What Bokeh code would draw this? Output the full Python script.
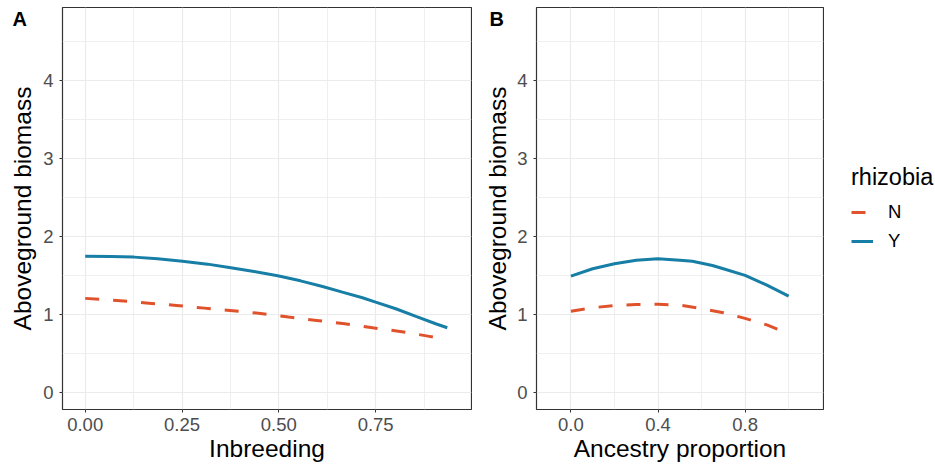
import math
from bokeh.plotting import figure
from bokeh.layouts import row
from bokeh.models import FixedTicker, PrintfTickFormatter, Label, Legend, LegendItem, Range1d
from bokeh.embed import file_html
from bokeh.resources import INLINE

# ---- data ----
series_names = ["N", "Y"]
colors = {"N": "#E0522B", "Y": "#177EA6"}
dashes = {"N": "14 14", "Y": "solid"}

inb_x_Y = [0.0, 0.066, 0.126, 0.187, 0.251, 0.316, 0.376, 0.436, 0.497, 0.556, 0.613, 0.664, 0.716, 0.750, 0.802, 0.854, 0.905, 0.935]
inb_y_Y = [1.751, 1.747, 1.739, 1.718, 1.687, 1.649, 1.602, 1.555, 1.500, 1.435, 1.363, 1.290, 1.218, 1.162, 1.077, 0.978, 0.885, 0.833]
inb_x_N = [0.0, 0.091, 0.164, 0.236, 0.308, 0.381, 0.453, 0.525, 0.598, 0.670, 0.742, 0.813, 0.885, 0.903]
inb_y_N = [1.21, 1.179, 1.149, 1.119, 1.085, 1.051, 1.017, 0.970, 0.927, 0.884, 0.833, 0.786, 0.726, 0.709]

anc_x_Y = [0.0, 0.1, 0.2, 0.3, 0.4, 0.5, 0.558, 0.65, 0.7, 0.8, 0.9, 1.0]
anc_y_Y = [1.495, 1.59, 1.654, 1.70, 1.718, 1.70, 1.685, 1.632, 1.590, 1.505, 1.38, 1.238]
anc_x_N = [0.0, 0.1, 0.2, 0.3, 0.4, 0.5, 0.6, 0.7, 0.8, 0.9, 0.953]
anc_y_N = [1.046, 1.09, 1.119, 1.132, 1.136, 1.123, 1.08, 1.025, 0.953, 0.87, 0.81]

y_ticks = [0, 1, 2, 3, 4]
y_minor = [0.5, 1.5, 2.5, 3.5, 4.5]
inb_ticks = [0.0, 0.25, 0.5, 0.75]
inb_minor = [0.125, 0.375, 0.625, 0.875]
anc_ticks = [0.0, 0.4, 0.8]
anc_minor = [0.2, 0.6, 1.0]

y_title = "Aboveground biomass"
legend_title = "rhizobia"

FONT = "Liberation Sans"
Y0, Y1 = -0.215, 4.94
FH = 402      # panel (frame) height in px
TOP, BOT = 7, 58


def blank_fig(width):
    """A figure whose frame spans its full width; used for the panel tag/y-title strip and the legend."""
    f = figure(width=width, frame_height=FH, output_backend="svg", toolbar_location=None,
               x_range=Range1d(0, width), y_range=Range1d(0, FH),
               x_axis_location=None, y_axis_location=None,
               min_border_left=0, min_border_right=0, min_border_top=TOP, min_border_bottom=BOT)
    f.outline_line_color = None
    f.grid.grid_line_color = None
    f.background_fill_color = "white"
    f.border_fill_color = "white"
    return f


def tag_strip(width, tag, tag_x, title_x):
    f = blank_fig(width)
    f.add_layout(Label(x=tag_x, y=FH, text=tag, text_font=FONT, text_font_size="20px",
                       text_font_style="bold", text_baseline="top", text_align="left",
                       text_color="black"))
    f.add_layout(Label(x=title_x, y=FH / 2, text=y_title, angle=math.pi / 2,
                       text_font=FONT, text_font_size="24.5px", text_baseline="alphabetic",
                       text_align="center", text_color="black"))
    return f


def make_fig(fw, left, xr, xticks, xminor, fmt, xlabel):
    p = figure(frame_width=fw, frame_height=FH, output_backend="svg", toolbar_location=None,
               x_range=Range1d(*xr), y_range=Range1d(Y0, Y1),
               min_border_left=left, min_border_right=1,
               min_border_top=TOP, min_border_bottom=BOT)
    p.outline_line_color = "#333333"
    p.outline_line_width = 1.2
    p.background_fill_color = "white"
    p.border_fill_color = "white"
    p.xaxis.ticker = FixedTicker(ticks=xticks, minor_ticks=xminor)
    p.yaxis.ticker = FixedTicker(ticks=y_ticks, minor_ticks=y_minor)
    p.xaxis.formatter = PrintfTickFormatter(format=fmt)
    for ax in (p.xaxis, p.yaxis):
        ax.axis_line_color = None
        ax.major_tick_line_color = "#333333"
        ax.major_tick_out = 3
        ax.major_tick_in = 0
        ax.minor_tick_line_color = None
        ax.major_label_text_font = FONT
        ax.major_label_text_font_size = "18.5px"
        ax.major_label_text_color = "#4D4D4D"
        ax.axis_label_text_font = FONT
        ax.axis_label_text_font_size = "24.5px"
        ax.axis_label_text_font_style = "normal"
        ax.axis_label_text_color = "black"
    p.xaxis.axis_label = xlabel
    p.xaxis.major_label_standoff = 4
    p.xaxis.axis_label_standoff = 1
    p.yaxis.major_label_standoff = 5
    for g in (p.xgrid, p.ygrid):
        g.grid_line_color = "#EBEBEB"
        g.grid_line_width = 1.2
        g.minor_grid_line_color = "#EBEBEB"
        g.minor_grid_line_width = 0.8
    return p


tagA = tag_strip(40, "A", 12, 22)
pA = make_fig(409, 20, (-0.0586, 0.9975), inb_ticks, inb_minor, "%.2f", "Inbreeding")
pA.line(inb_x_N, inb_y_N, line_color=colors["N"], line_width=3, line_dash=dashes["N"])
pA.line(inb_x_Y, inb_y_Y, line_color=colors["Y"], line_width=3, line_dash=dashes["Y"])

tagB = tag_strip(40, "B", 17, 25)
pB = make_fig(287, 24, (-0.158, 1.16), anc_ticks, anc_minor, "%.1f", "Ancestry proportion")
pB.line(anc_x_N, anc_y_N, line_color=colors["N"], line_width=3, line_dash=dashes["N"])
pB.line(anc_x_Y, anc_y_Y, line_color=colors["Y"], line_width=3, line_dash=dashes["Y"])

# ---- legend strip ----
pL = blank_fig(113)
items = []
for s in series_names:
    r = pL.line([float("nan")], [float("nan")], line_color=colors[s], line_width=3, line_dash=dashes[s])
    items.append(LegendItem(label=s, renderers=[r]))

legend = Legend(items=items, title=legend_title, location="left")
legend.title_text_font = FONT
legend.title_text_font_size = "23.5px"
legend.title_text_font_style = "normal"
legend.title_text_color = "black"
legend.title_standoff = 10
legend.label_text_font = FONT
legend.label_text_font_size = "18.5px"
legend.label_text_color = "black"
legend.glyph_width = 22
legend.glyph_height = 20
legend.label_height = 20
legend.label_standoff = 15
legend.spacing = 7
legend.padding = 0
legend.margin = 27
legend.border_line_color = None
legend.background_fill_alpha = 0
pL.add_layout(legend)

layout = row(tagA, pA, tagB, pB, pL)
open("out.html", "w").write(file_html(layout, INLINE))
